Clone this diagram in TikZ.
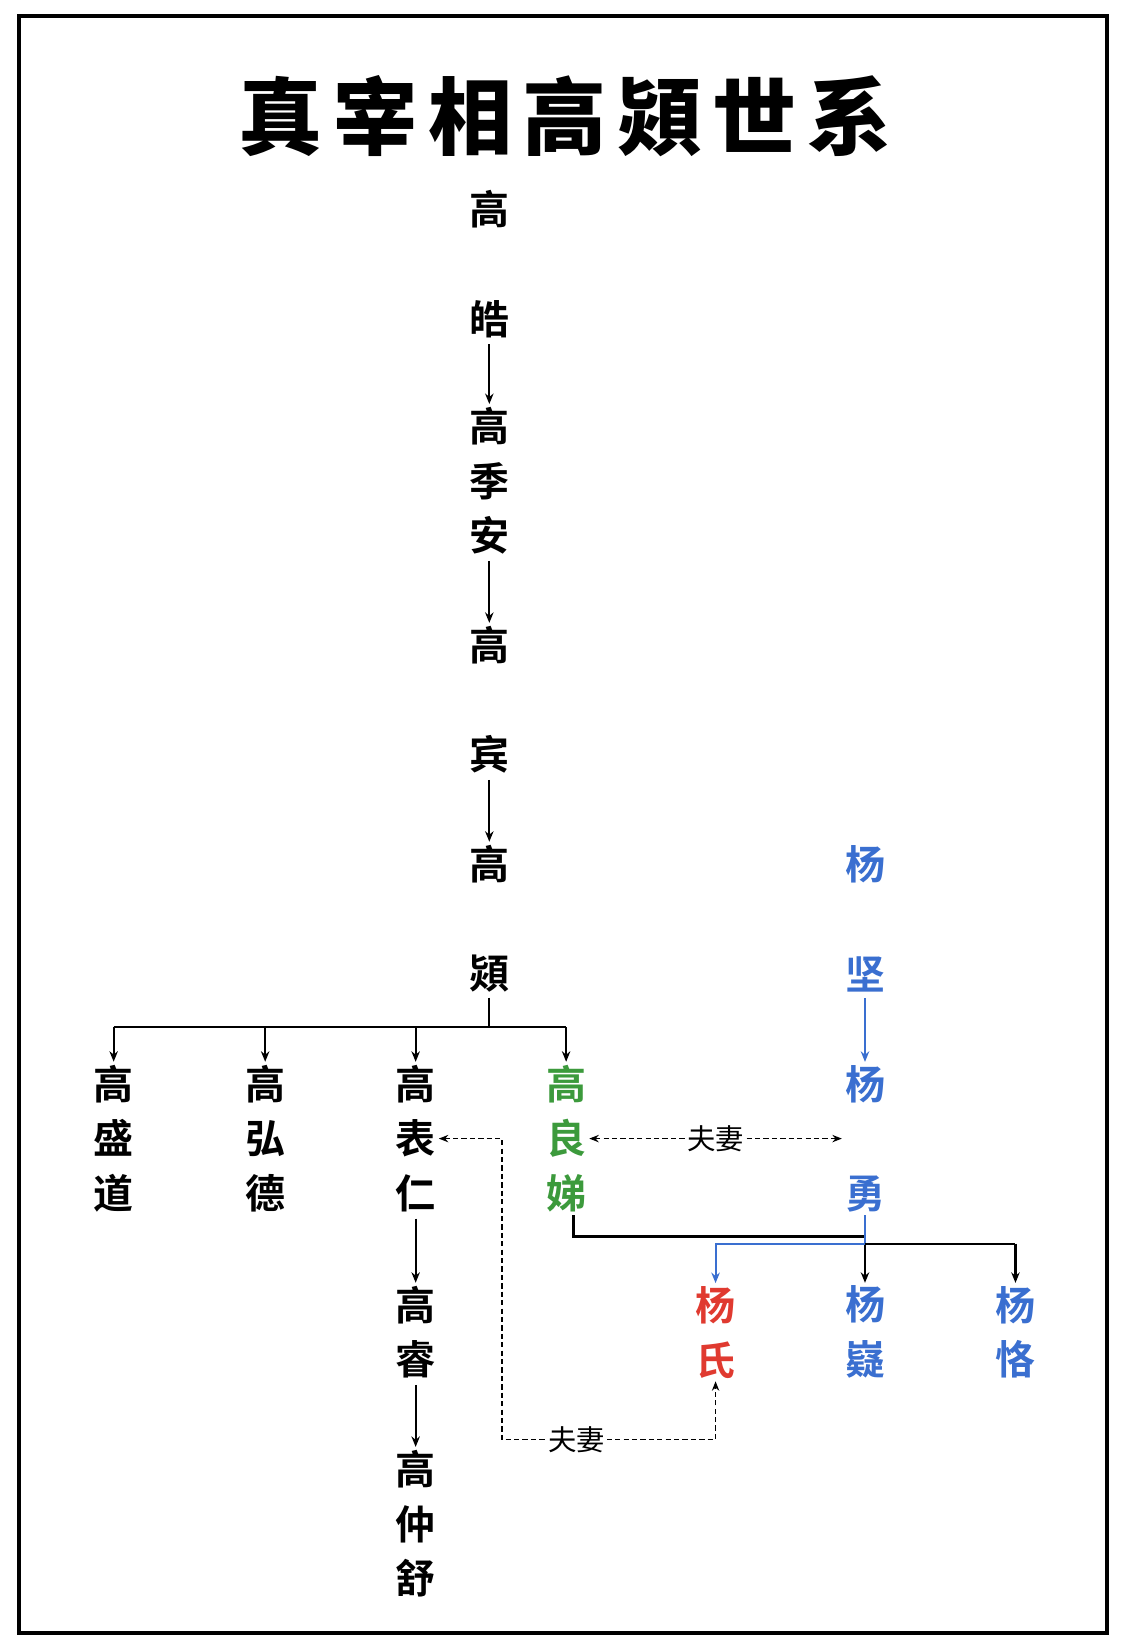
\documentclass[tikz,border=0pt]{standalone}
\usepackage{fontspec}
\newfontfamily\cjk{Noto Sans CJK SC}[BoldFont={* Bold}]
\newfontfamily\cjkblack{Noto Sans CJK SC Black}
\usetikzlibrary{arrows.meta}
\definecolor{yblue}{HTML}{3A6FD0}
\definecolor{lgreen}{HTML}{3C9A3C}
\definecolor{yred}{HTML}{E03A30}

\begin{document}
\begin{tikzpicture}[x=1pt,y=-1pt,line width=2pt,
  person/.style={inner sep=2pt,align=center,font=\cjk\bfseries\fontsize{38}{52}\selectfont},
  link/.style={-{Stealth[length=10pt,width=8pt]},line width=2pt,shorten <=3pt},
  spouse/.style={{Stealth[length=9pt,width=7pt]}-{Stealth[length=9pt,width=7pt]},dash pattern=on 5pt off 3pt,line width=1.4pt},
  tag/.style={fill=white,inner sep=2pt,font=\cjk\fontsize{27}{27}\selectfont},
]
\useasboundingbox (0,0) rectangle (1068,1568);
\fill[white] (0,0) rectangle (1068,1568);
\draw[line width=4pt] (18,15) rectangle (1052,1552);

% title
\node[font=\cjkblack\fontsize{80}{80}\selectfont] (title) at (537,110)
  {真\hspace{10pt}宰\hspace{10pt}相\hspace{10pt}高\hspace{10pt}熲\hspace{10pt}世\hspace{10pt}系};

%% Gao line
\node[person] (hao) at (465,251) {高\\[52pt]皓};
\node[person] (jian) at (465,457) {高\\季\\安};
\node[person] (bin) at (465,665) {高\\[52pt]宾};
\node[person] (jiong) at (465,873) {高\\[52pt]熲};

\draw[link] (hao) -- (jian);
\draw[link] (jian) -- (bin);
\draw[link] (bin) -- (jiong);

% children of Gao Jiong
\node[person] (shengdao) at (108,1082) {高\\盛\\道};
\node[person] (hongde) at (252,1082) {高\\弘\\德};
\node[person] (biaoren) at (395,1082) {高\\表\\仁};
\node[person,text=lgreen] (liangdi) at (538,1082) {高\\良\\娣};

\draw (jiong.south) ++(0,2) -- ++(0,28) coordinate (bar);
\draw (bar -| shengdao) -- (bar -| liangdi);
\foreach \c in {shengdao,hongde,biaoren,liangdi}
  \draw[link,shorten <=0pt] (bar -| \c) -- (\c.north);

\node[person] (rui) at (395,1266) {高\\睿};
\node[person] (zhongshu) at (395,1448) {高\\仲\\舒};
\draw[link] (biaoren) -- (rui);
\draw[link] (rui) -- (zhongshu);

%% Yang line
\node[person,text=yblue] (jianY) at (822,873) {杨\\[52pt]坚};
\node[person,text=yblue] (yong) at (822,1082) {杨\\[52pt]勇};
\draw[link,yblue] (jianY) -- (yong);

\node[person,text=yred] (yangshi) at (680,1266) {杨\\氏};
\node[person,text=yblue] (yangyi) at (822,1266) {杨\\嶷};
\node[person,text=yblue] (yangke) at (965,1266) {杨\\恪};

\coordinate (mom) at (545,1175);
\draw (liangdi.south -| mom) -- (mom) -- (mom -| yangyi);
\draw[link,shorten <=0pt] (mom -| yangyi) -- (yangyi.north);
\draw[yblue] (yong.south) -- ++(0,27) coordinate (dad);
\draw (dad) -- (dad -| yangke);
\draw[link,shorten <=0pt] (dad -| yangke) -- (yangke.north);
\draw[link,yblue,shorten <=0pt] (dad) -- (dad -| yangshi) -- (yangshi.north);

%% marriages
\draw[spouse] (liangdi.east) -- node[tag] {夫妻} (liangdi.east -| yong.west);
\coordinate (turn) at (477,1368);
\draw[spouse] (biaoren.east) -| (turn) -- node[tag,pos=0.35] {夫妻} (turn -| yangshi) -- (yangshi.south);
\end{tikzpicture}
\end{document}
